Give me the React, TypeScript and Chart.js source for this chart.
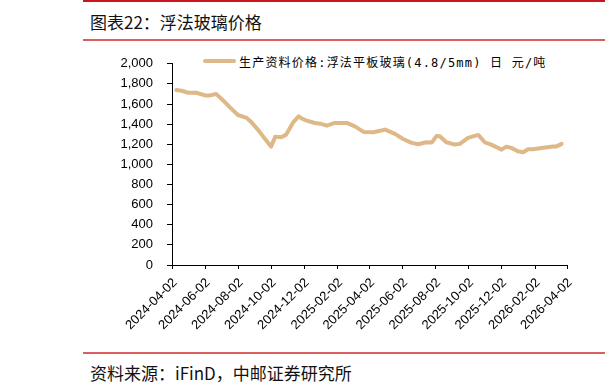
import React, { useEffect, useRef } from "react";
import { Chart, registerables } from "chart.js";

Chart.register(...registerables);

const baseDate = "2024-04-02";

const dates = [
  "2024-04-10", "2024-04-20", "2024-05-02", "2024-05-17", "2024-06-02", "2024-06-11", "2024-06-23", "2024-07-06", "2024-07-18", "2024-08-02",
  "2024-08-18", "2024-08-27", "2024-09-08", "2024-09-21", "2024-10-02", "2024-10-10", "2024-10-21", "2024-10-30", "2024-11-12", "2024-11-22",
  "2024-11-29", "2024-12-07", "2024-12-22", "2025-01-01", "2025-01-13", "2025-01-28", "2025-02-19", "2025-03-06", "2025-03-22", "2025-04-09",
  "2025-05-01", "2025-05-19", "2025-06-03", "2025-06-19", "2025-07-01", "2025-07-16", "2025-07-26", "2025-08-04", "2025-08-10", "2025-08-22",
  "2025-09-07", "2025-09-16", "2025-10-01", "2025-10-20", "2025-11-01", "2025-11-13", "2025-12-02", "2025-12-11", "2025-12-20", "2026-01-01",
  "2026-01-11", "2026-01-20", "2026-01-29", "2026-02-14", "2026-03-07", "2026-03-13", "2026-03-23",
];

const glassPrice = [
  1740, 1732, 1712, 1712, 1686, 1686, 1699, 1633, 1567, 1491,
  1462, 1418, 1343, 1253, 1177, 1276, 1270, 1296, 1418, 1478,
  1452, 1435, 1412, 1405, 1385, 1412, 1412, 1378, 1323, 1319,
  1346, 1303, 1253, 1214, 1200, 1220, 1217, 1283, 1280, 1220,
  1197, 1204, 1263, 1293, 1220, 1197, 1147, 1177, 1164, 1131,
  1121, 1150, 1150, 1164, 1177, 1177, 1204,
];

const xTickLabels = [
  "2024-04-02", "2024-06-02", "2024-08-02", "2024-10-02", "2024-12-02", "2025-02-02", "2025-04-02",
  "2025-06-02", "2025-08-02", "2025-10-02", "2025-12-02", "2026-02-02", "2026-04-02",
];

const yTicks = [0, 200, 400, 600, 800, 1000, 1200, 1400, 1600, 1800, 2000];

const titleText = "图表22：浮法玻璃价格";
const legendText = "生产资料价格:浮法平板玻璃(4.8/5mm) 日 元/吨";
const sourceText = "资料来源：iFinD，中邮证券研究所";

const LINE_COLOR = "#DEB887";

const dayOf = (d: string) => (Date.parse(d) - Date.parse(baseDate)) / 86400000;

export default function App() {
  const canvasRef = useRef<HTMLCanvasElement | null>(null);

  useEffect(() => {
    if (!canvasRef.current) return;
    const tickDays = xTickLabels.map(dayOf);
    const points = dates.map((d, i) => ({ x: dayOf(d), y: glassPrice[i] }));
    const chart = new Chart(canvasRef.current, {
      type: "line",
      data: {
        datasets: [
          {
            label: legendText,
            data: points,
            borderColor: LINE_COLOR,
            backgroundColor: LINE_COLOR,
            borderWidth: 4,
            pointRadius: 0,
            tension: 0,
            borderJoinStyle: "round",
            borderCapStyle: "round",
          },
        ],
      },
      options: {
        animation: false,
        responsive: false,
        devicePixelRatio: 1,
        layout: { padding: { top: 21, right: 38, left: 0, bottom: 0 } },
        plugins: { legend: { display: false }, tooltip: { enabled: false } },
        scales: {
          x: {
            type: "linear",
            min: tickDays[0],
            max: tickDays[tickDays.length - 1],
            afterBuildTicks: (scale: any) => {
              scale.ticks = tickDays.map((v) => ({ value: v }));
            },
            afterFit: (scale: any) => {
              scale.height = 87;
            },
            ticks: {
              autoSkip: false,
              minRotation: 45,
              maxRotation: 45,
              padding: 6,
              labelOffset: 3,
              color: "#000",
              font: { family: "Liberation Sans", size: 13 },
              callback: (_v: any, i: number) => xTickLabels[i],
            },
            grid: { drawOnChartArea: false, drawTicks: true, tickLength: 4, color: "#000" },
            border: { display: true, color: "#000", width: 1 },
          },
          y: {
            min: 0,
            max: 2000,
            afterBuildTicks: (scale: any) => {
              scale.ticks = yTicks.map((v) => ({ value: v }));
            },
            afterFit: (scale: any) => {
              scale.width = 89;
            },
            ticks: {
              padding: 14,
              color: "#000",
              font: { family: "Liberation Sans", size: 13 },
              callback: (v: any) => Number(v).toLocaleString("en-US"),
            },
            grid: { drawOnChartArea: false, drawTicks: true, tickLength: 5, color: "#000" },
            border: { display: true, color: "#000", width: 1 },
          },
        },
      },
    } as any);
    return () => chart.destroy();
  }, []);

  const cjk = '"Noto Sans CJK SC", "Noto Sans", sans-serif';
  const legendFont = '"DejaVu Sans Mono", "Noto Sans CJK SC", monospace';

  return (
    <div style={{ position: "absolute", left: 0, top: 0, width: 605, height: 392, overflow: "hidden", background: "#fff" }}>
      <div style={{ position: "absolute", left: 83, top: 0, width: 522, height: 2, background: "#C8161D" }} />
      <div style={{ position: "absolute", left: 90, top: 11, fontFamily: cjk, fontSize: 17, lineHeight: "22px", color: "#111", whiteSpace: "nowrap" }}>
        {titleText}
      </div>
      <div style={{ position: "absolute", left: 83, top: 39, width: 522, height: 2, background: "#D9605F" }} />
      <div style={{ position: "absolute", left: 203, top: 52, height: 18, display: "flex", alignItems: "center", whiteSpace: "pre" }}>
        <span style={{ display: "inline-block", width: 33, height: 4, borderRadius: 2, background: LINE_COLOR, marginRight: 3 }} />
        <span style={{ fontFamily: legendFont, fontSize: 12, letterSpacing: "1.2px", color: "#000" }}>{legendText}</span>
      </div>
      <canvas
        ref={canvasRef}
        width={522}
        height={310}
        style={{ position: "absolute", left: 83, top: 42, width: 522, height: 310 }}
      />
      <div style={{ position: "absolute", left: 83, top: 352, width: 522, height: 2, background: "#D9605F" }} />
      <div style={{ position: "absolute", left: 90, top: 362, fontFamily: cjk, fontSize: 17, lineHeight: "22px", color: "#111", whiteSpace: "nowrap" }}>
        {sourceText}
      </div>
    </div>
  );
}
